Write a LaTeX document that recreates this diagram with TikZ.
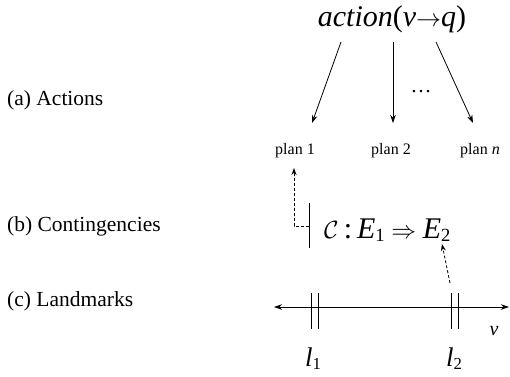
\documentclass[tikz,border=0pt]{standalone}
\usepackage{fontspec}
\setmainfont{Liberation Serif}
\usetikzlibrary{arrows.meta}
\newcommand{\mysub}[1]{\raisebox{-0.13em}{\fontsize{0.62em}{0.7em}\selectfont #1}}
\begin{document}
\begin{tikzpicture}[x=1pt,y=-1pt,
  lab/.style={inner sep=0pt,anchor=base west,font=\fontsize{21.5}{24}\selectfont},
  plan/.style={inner sep=0pt,anchor=base,font=\fontsize{16}{18}\selectfont},
  big/.style={inner sep=0pt,font=\fontsize{30}{34}\selectfont},
  conn/.style={line width=0.8pt,-{Stealth[length=8pt,width=5.5pt]}},
  dconn/.style={line width=0.8pt,dashed,dash pattern=on 3pt off 2pt,-{Stealth[length=7pt,width=5pt]}},
  bar/.style={line width=0.8pt}]
\useasboundingbox (0,0) rectangle (510,376);
% left labels
\node[lab] (la) at (7,105) {(a) Actions};
\node[lab] (lb) at (7,231) {(b) Contingencies};
\node[lab] (lc) at (7,306) {(c) Landmarks};
% actions
\node[big,anchor=base] (act) at (392,26) {\textit{action}(\textit{v}$\rightarrow$\textit{q})};
\node[plan] (p1) at (295,154) {plan 1};
\node[plan] (p2) at (391,154) {plan 2};
\node[plan] (pn) at (480,154) {plan \textit{n}};
\coordinate (a1) at (341,42);
\coordinate (a2) at (393,42);
\coordinate (a3) at (436,42);
\coordinate (t1) at (312,123);
\coordinate (t2) at (393,123);
\coordinate (t3) at (473,123);
\draw[conn] (a1) -- (t1);
\draw[conn] (a2) -- (t2);
\draw[conn] (a3) -- (t3);
\node[inner sep=0pt,anchor=base,font=\fontsize{21}{22}\selectfont] (dots) at (421,92) {\dots};
% contingency
\node[big,anchor=base west] (cont) at (324,238) {$\mathcal{C}$\,:\,\textit{E}\mysub{1}\hspace{0.22em}$\Rightarrow$\hspace{0.22em}\textit{E}\mysub{2}};
\coordinate (cb1) at (309,203);
\coordinate (cb2) at (309,248);
\draw[bar] (cb1) -- (cb2);
\coordinate (cm) at (309,226);
\coordinate (pt1) at (294,168);
\draw[dconn] (cm) -- (294,226) -- (pt1);
% landmarks
\coordinate (axl) at (274,307);
\coordinate (axr) at (509,307);
\draw[line width=0.8pt,{Stealth[length=8pt,width=5.5pt]}-{Stealth[length=8pt,width=5.5pt]}] (axl) -- (axr);
\draw[bar] (311,293) -- (311,329);
\draw[bar] (318,293) -- (318,329);
\draw[bar] (451,293) -- (451,329);
\draw[bar] (458,293) -- (458,329);
\coordinate (l2top) at (450,283);
\coordinate (e2bot) at (442,244);
\draw[dconn] (l2top) -- (e2bot);
\node[inner sep=0pt,anchor=base,font=\fontsize{20}{22}\selectfont] (v) at (494,335) {\textit{v}};
\node[inner sep=0pt,anchor=base,font=\fontsize{27}{30}\selectfont] (l1) at (313,366) {\textit{l}\mysub{1}};
\node[inner sep=0pt,anchor=base,font=\fontsize{27}{30}\selectfont] (l2) at (454,366) {\textit{l}\mysub{2}};
\end{tikzpicture}
\end{document}
